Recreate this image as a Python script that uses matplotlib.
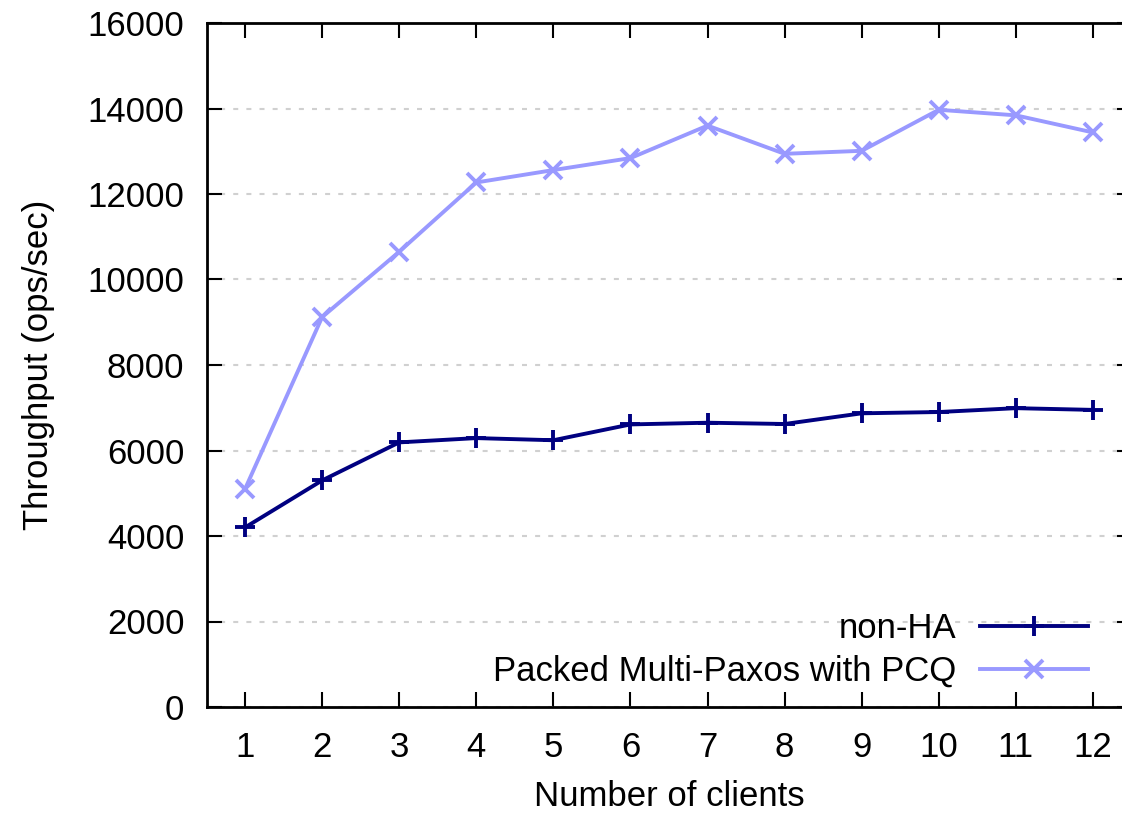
import matplotlib
matplotlib.use("Agg")
import matplotlib.pyplot as plt

clients = [1, 2, 3, 4, 5, 6, 7, 8, 9, 10, 11, 12]
non_ha = [4200, 5300, 6190, 6290, 6240, 6610, 6650, 6620, 6870, 6900, 6990, 6950]
pcq = [5100, 9120, 10650, 12270, 12560, 12840, 13600, 12940, 13010, 13970, 13840, 13440]
yticks = [0, 2000, 4000, 6000, 8000, 10000, 12000, 14000, 16000]

plt.rcParams['font.family'] = ['Liberation Sans', 'DejaVu Sans']
FS = 25

fig = plt.figure(figsize=(11.22, 8.16), dpi=100)
W, H = 1122, 816
left, right, top, bottom = 206.5, 1131.5, 23, 707
ax = fig.add_axes([left / W, 1 - bottom / H, (right - left) / W, (bottom - top) / H])

ax.plot(clients, non_ha, color='#000080', lw=2.8, marker='+', ms=15, mew=2.8,
        label='non-HA', zorder=3)
ax.plot(clients, pcq, color='#9999ff', lw=2.8, marker='x', ms=13, mew=2.8,
        label='Packed Multi-Paxos with PCQ', zorder=3)

ax.set_xlim(0.5, 12.5)
ax.set_ylim(0, 16000)
ax.set_xticks(clients)
ax.set_yticks(yticks)
ax.set_yticklabels([str(v) for v in yticks])

ax.yaxis.grid(True, color='#d0d0d0', lw=1.5, linestyle=(0, (2.4, 3.9)))
ax.set_axisbelow(True)

for s in ax.spines.values():
    s.set_linewidth(2.0)
    s.set_color('black')

ax.tick_params(axis='both', direction='in', length=11, width=1.5,
               top=True, right=True, labelsize=FS, colors='black')
ax.tick_params(axis='y', pad=16)
ax.tick_params(axis='x', pad=17)

ax.set_xlabel('Number of clients', fontsize=FS, labelpad=12)
ax.set_ylabel('Throughput (ops/sec)', fontsize=FS, labelpad=23)

ax.legend(loc='lower right', bbox_to_anchor=(0.953, 0.028), frameon=False,
          markerfirst=False, fontsize=FS, handlelength=3.1, handletextpad=0.7,
          labelspacing=0.29, borderpad=0, borderaxespad=0)

fig.savefig('out.png', dpi=100)
